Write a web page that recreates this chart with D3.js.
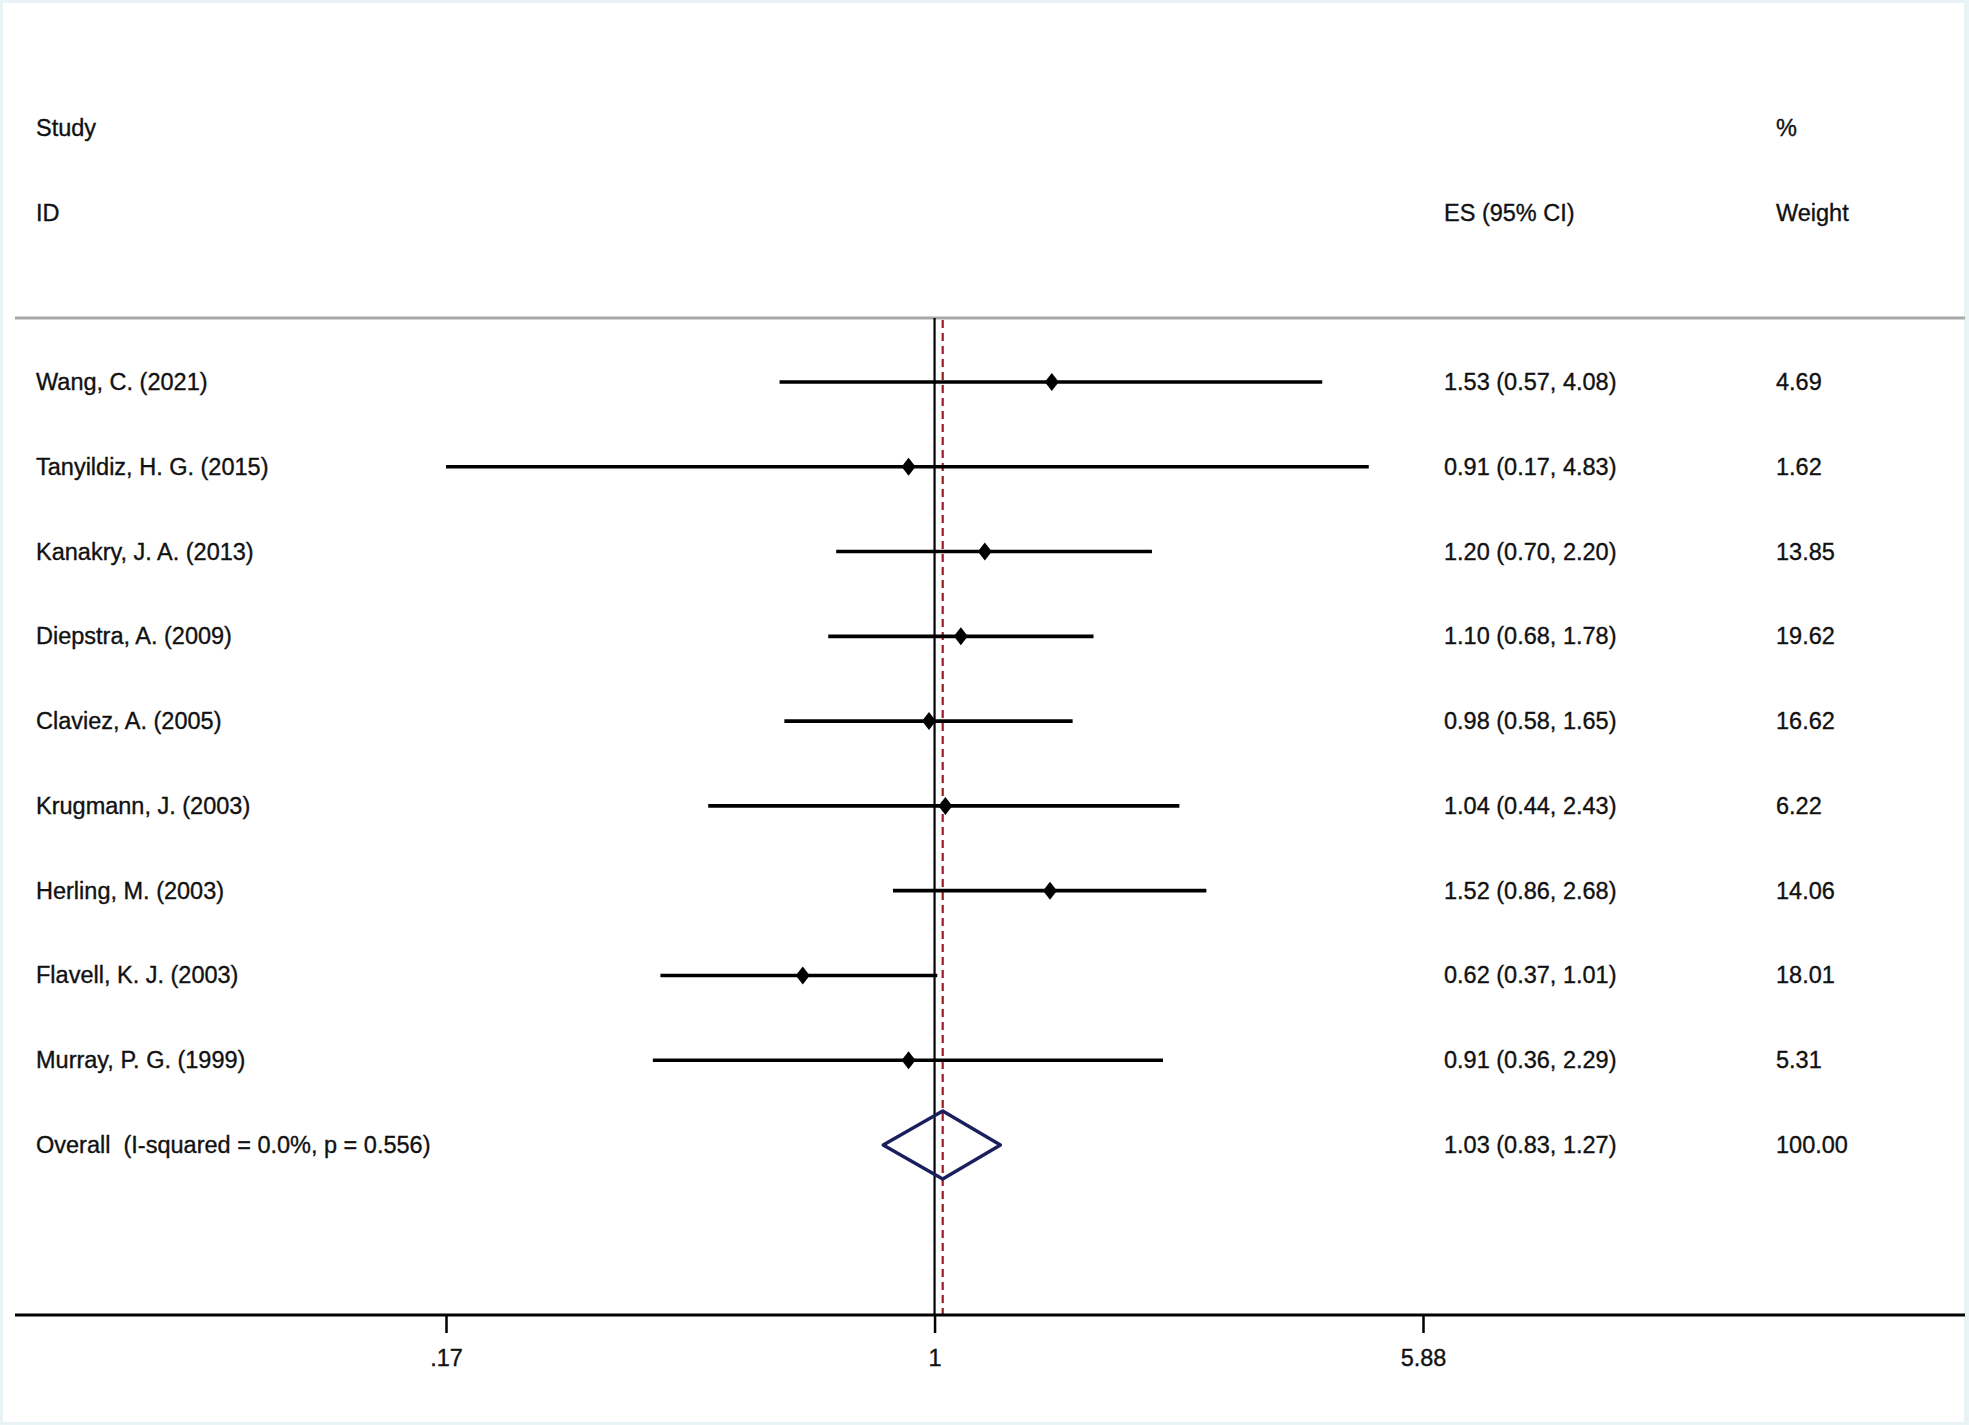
<!DOCTYPE html>
<html>
<head>
<meta charset="utf-8">
<script src="https://cdn.jsdelivr.net/npm/d3@7"></script>
<style>
  html, body { margin: 0; padding: 0; background: #ffffff; }
  svg { display: block; }
  text { font-family: "Liberation Sans", Arial, Helvetica, sans-serif; fill: #111; stroke: #111; stroke-width: 0.35px; }
</style>
</head>
<body>
<svg id="chart" width="1969" height="1425"></svg>
<script>
// ---- data ----
const studies = ["Wang, C. (2021)", "Tanyildiz, H. G. (2015)", "Kanakry, J. A. (2013)", "Diepstra, A. (2009)",
  "Claviez, A. (2005)", "Krugmann, J. (2003)", "Herling, M. (2003)", "Flavell, K. J. (2003)", "Murray, P. G. (1999)"];
const es      = [1.53, 0.91, 1.20, 1.10, 0.98, 1.04, 1.52, 0.62, 0.91];
const lower   = [0.57, 0.17, 0.70, 0.68, 0.58, 0.44, 0.86, 0.37, 0.36];
const upper   = [4.08, 4.83, 2.20, 1.78, 1.65, 2.43, 2.68, 1.01, 2.29];
const weights = ["4.69", "1.62", "13.85", "19.62", "16.62", "6.22", "14.06", "18.01", "5.31"];
const overallLabel = "Overall  (I-squared = 0.0%, p = 0.556)";
const overallES = 1.03, overallLower = 0.83, overallUpper = 1.27, overallWeight = "100.00";
const tickValues = [0.17, 1, 5.88];
const tickLabels = [".17", "1", "5.88"];

const fmt = d3.format(".2f");

const svg = d3.select("#chart");
const W = 1969, H = 1425;

// frame
svg.append("rect").attr("x", 0).attr("y", 0).attr("width", W).attr("height", H).attr("fill", "#e9f2f4");
svg.append("rect").attr("x", 3).attr("y", 3).attr("width", W - 8).attr("height", H - 6).attr("fill", "#ffffff");

// scales
const x = d3.scaleLog().domain([0.17, 5.88]).range([446, 1423]);
const rowLabels = studies.concat(["__overall__"]);
const y = d3.scalePoint().domain(d3.range(rowLabels.length)).range([382, 1145]);

const colLeft = 36, colES = 1444, colW = 1776;
const fs = 23.5;

// headers
const hdr = [
  { t: "Study", x: colLeft, y: 128 },
  { t: "ID", x: colLeft, y: 213 },
  { t: "%", x: colW, y: 128 },
  { t: "ES (95% CI)", x: colES, y: 213 },
  { t: "Weight", x: colW, y: 213 }
];
svg.selectAll("text.hdr").data(hdr).enter().append("text")
  .attr("class", "hdr")
  .attr("x", d => d.x).attr("y", d => d.y)
  .attr("dominant-baseline", "central")
  .attr("font-size", fs)
  .text(d => d.t);

// gray separator
svg.append("line").attr("x1", 15).attr("x2", W - 4).attr("y1", 318).attr("y2", 318)
  .attr("stroke", "#a9a9a9").attr("stroke-width", 3);

const plotTop = 318, axisY = 1315;

// null line at 1
svg.append("line").attr("x1", x(1)).attr("x2", x(1)).attr("y1", plotTop).attr("y2", axisY)
  .attr("stroke", "#000").attr("stroke-width", 2.2);

// overall dashed line
svg.append("line").attr("x1", x(overallES)).attr("x2", x(overallES)).attr("y1", plotTop + 2).attr("y2", axisY)
  .attr("stroke", "#9b1c24").attr("stroke-width", 2.2).attr("stroke-dasharray", "8,5");

// CI lines
const rows = studies.map((s, i) => ({ s, es: es[i], lo: lower[i], hi: upper[i], w: weights[i], i }));
svg.selectAll("line.ci").data(rows).enter().append("line")
  .attr("class", "ci")
  .attr("x1", d => x(d.lo)).attr("x2", d => x(d.hi))
  .attr("y1", d => y(d.i)).attr("y2", d => y(d.i))
  .attr("stroke", "#000").attr("stroke-width", 3.6);

// point markers (diamonds)
const mw = 7, mh = 9;
svg.selectAll("path.pt").data(rows).enter().append("path")
  .attr("class", "pt")
  .attr("d", d => {
    const cx = x(d.es), cy = y(d.i);
    return `M${cx},${cy - mh}L${cx + mw},${cy}L${cx},${cy + mh}L${cx - mw},${cy}Z`;
  })
  .attr("fill", "#000");

// labels
svg.selectAll("text.study").data(rows).enter().append("text")
  .attr("class", "study")
  .attr("x", colLeft).attr("y", d => y(d.i))
  .attr("dominant-baseline", "central").attr("font-size", fs)
  .text(d => d.s);
svg.selectAll("text.es").data(rows).enter().append("text")
  .attr("class", "es")
  .attr("x", colES).attr("y", d => y(d.i))
  .attr("dominant-baseline", "central").attr("font-size", fs)
  .text(d => `${fmt(d.es)} (${fmt(d.lo)}, ${fmt(d.hi)})`);
svg.selectAll("text.wt").data(rows).enter().append("text")
  .attr("class", "wt")
  .attr("x", colW).attr("y", d => y(d.i))
  .attr("dominant-baseline", "central").attr("font-size", fs)
  .text(d => d.w);

// overall
const oy = y(rowLabels.length - 1);
const dh = 34;
svg.append("path")
  .attr("d", `M${x(overallLower)},${oy}L${x(overallES)},${oy - dh}L${x(overallUpper)},${oy}L${x(overallES)},${oy + dh}Z`)
  .attr("fill", "none").attr("stroke", "#1b1f5e").attr("stroke-width", 3.4).attr("stroke-linejoin", "round");
svg.append("text").attr("x", colLeft).attr("y", oy).attr("dominant-baseline", "central").attr("font-size", fs)
  .attr("xml:space", "preserve").style("white-space", "pre").text(overallLabel);
svg.append("text").attr("x", colES).attr("y", oy).attr("dominant-baseline", "central").attr("font-size", fs)
  .text(`${fmt(overallES)} (${fmt(overallLower)}, ${fmt(overallUpper)})`);
svg.append("text").attr("x", colW).attr("y", oy).attr("dominant-baseline", "central").attr("font-size", fs)
  .text(overallWeight);

// axis
svg.append("line").attr("x1", 15).attr("x2", W - 4).attr("y1", axisY).attr("y2", axisY)
  .attr("stroke", "#000").attr("stroke-width", 3);
const axis = d3.axisBottom(x).tickValues(tickValues).tickSize(18).tickPadding(16)
  .tickFormat((d, i) => tickLabels[i]);
const ag = svg.append("g").attr("transform", `translate(0,${axisY})`).call(axis);
ag.select(".domain").remove();
ag.selectAll(".tick line").attr("stroke", "#000").attr("stroke-width", 2.5);
ag.selectAll(".tick text").attr("font-size", fs).attr("fill", "#111")
  .attr("font-family", '"Liberation Sans", Arial, Helvetica, sans-serif');
</script>
</body>
</html>
